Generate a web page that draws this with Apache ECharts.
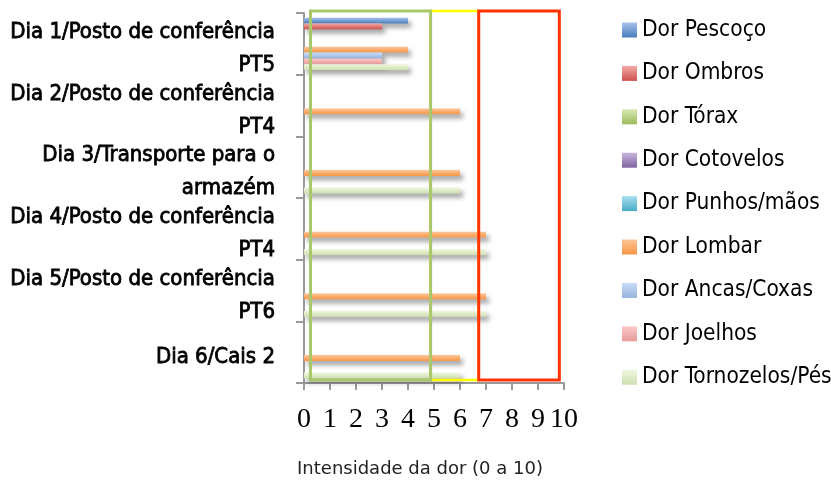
<!DOCTYPE html>
<html>
<head>
<meta charset="utf-8">
<script src="https://cdn.jsdelivr.net/npm/echarts@6/dist/echarts.min.js"></script>
<style>
  html, body { margin: 0; padding: 0; background: #ffffff; }
  #chart { width: 831px; height: 482px; }
</style>
</head>
<body>
<div id="chart"></div>
<script>
// Work stations observed on each day
const categories = [
  'Dia 1/Posto de conferência\nPT5',
  'Dia 2/Posto de conferência\nPT4',
  'Dia 3/Transporte para o\narmazém',
  'Dia 4/Posto de conferência\nPT4',
  'Dia 5/Posto de conferência\nPT6',
  'Dia 6/Cais 2'
];

// Reported pain intensity (0 to 10) per body region
const seriesNames = [
  'Dor Pescoço', 'Dor Ombros', 'Dor Tórax', 'Dor Cotovelos', 'Dor Punhos/mãos',
  'Dor Lombar', 'Dor Ancas/Coxas', 'Dor Joelhos', 'Dor Tornozelos/Pés'
];
const dorPescoco    = [4, 0, 0, 0, 0, 0];
const dorOmbros     = [3, 0, 0, 0, 0, 0];
const dorTorax      = [0, 0, 0, 0, 0, 0];
const dorCotovelos  = [0, 0, 0, 0, 0, 0];
const dorPunhos     = [0, 0, 0, 0, 0, 0];
const dorLombar     = [4, 6, 6, 7, 7, 6];
const dorAncas      = [3, 0, 0, 0, 0, 0];
const dorJoelhos    = [3, 0, 0, 0, 0, 0];
const dorTornozelos = [4, 0, 6, 7, 7, 6];

const seriesValues = [
  dorPescoco, dorOmbros, dorTorax, dorCotovelos, dorPunhos,
  dorLombar, dorAncas, dorJoelhos, dorTornozelos
];

// Scale ticks
const xTicks = [0, 1, 2, 3, 4, 5, 6, 7, 8, 9, 10];

// Intensity zones (low / moderate / high) on the pain scale
const zoneLow  = [0.25, 4.87];
const zoneMid  = [4.87, 6.72];
const zoneHigh = [6.72, 9.82];

// Bar fill gradients: lighter top, darker bottom
const palette = [
  ['#a6c3ec', '#4a7ebb'],
  ['#f3aaa8', '#cd4f4c'],
  ['#d9e9b4', '#9bbb59'],
  ['#c6b6dd', '#8064a2'],
  ['#a9dff0', '#4bacc6'],
  ['#fdc597', '#f79646'],
  ['#cadcf7', '#95b3de'],
  ['#fcc8c7', '#e69c9b'],
  ['#eff7df', '#cddfb0']
];

const labelFont = '"DejaVu Sans Condensed", "Liberation Sans Narrow", "DejaVu Sans", sans-serif';

function grad(c) {
  return new echarts.graphic.LinearGradient(0, 0, 0, 1, [
    { offset: 0, color: c[0] },
    { offset: 1, color: c[1] }
  ]);
}

const chart = echarts.init(document.getElementById('chart'), null, { renderer: 'canvas' });

const barSeries = seriesNames.map((name, i) => ({
  name: name,
  type: 'bar',
  data: seriesValues[i],
  barGap: '0%',
  barCategoryGap: '15%',
  itemStyle: {
    color: grad(palette[i]),
    shadowColor: 'rgba(0,0,0,0.38)',
    shadowBlur: 5,
    shadowOffsetX: 3,
    shadowOffsetY: 4
  },
  emphasis: { disabled: true },
  z: 2
}));

function zoneArea(range, color, width) {
  return [
    { xAxis: range[0], y: 11, itemStyle: { color: 'rgba(0,0,0,0)', borderColor: color, borderWidth: width } },
    { xAxis: range[1], y: 380 }
  ];
}

// Zone outlines drawn above the bars
barSeries.push({
  name: 'zones',
  type: 'line',
  data: [],
  z: 10,
  silent: true,
  markArea: {
    silent: true,
    z: 10,
    label: { show: false },
    emphasis: { disabled: true },
    data: [
      zoneArea(zoneMid, '#ffff00', 2.5),
      zoneArea(zoneLow, '#a9c76b', 3),
      zoneArea(zoneHigh, '#ff3300', 3)
    ]
  }
});

chart.setOption({
  animation: false,
  backgroundColor: '#ffffff',
  grid: { left: 304, right: 267, top: 13, bottom: 99, containLabel: false, outerBoundsMode: 'none' },
  legend: {
    data: seriesNames,
    orient: 'vertical',
    left: 617,
    top: 13,
    itemWidth: 15,
    itemHeight: 15,
    itemGap: 19.4,
    icon: 'rect',
    textStyle: {
      fontFamily: labelFont,
      fontSize: 22.5,
      lineHeight: 24,
      color: '#000000'
    }
  },
  xAxis: {
    type: 'value',
    min: xTicks[0],
    max: xTicks[xTicks.length - 1],
    interval: 1,
    name: 'Intensidade da dor (0 a 10)',
    nameLocation: 'middle',
    nameGap: 77,
    nameTextStyle: {
      fontFamily: '"DejaVu Sans", sans-serif',
      fontSize: 18,
      color: '#222222',
      padding: [0, 28, 0, 0]
    },
    axisLine: { show: true, lineStyle: { color: '#9a9a9a', width: 2 } },
    axisTick: { show: true, length: 7, lineStyle: { color: '#9a9a9a', width: 2 } },
    splitLine: { show: false },
    axisLabel: {
      margin: 23,
      fontFamily: '"Liberation Serif", "DejaVu Serif", serif',
      fontSize: 28,
      color: '#000000'
    }
  },
  yAxis: {
    type: 'category',
    data: categories,
    inverse: true,
    axisLine: { show: true, lineStyle: { color: '#9a9a9a', width: 2 } },
    axisTick: { show: true, length: 8, lineStyle: { color: '#9a9a9a', width: 2 } },
    axisLabel: {
      interval: 0,
      margin: 29,
      fontFamily: labelFont,
      fontSize: 22,
      lineHeight: 33,
      color: '#000000',
      textBorderColor: '#000000',
      textBorderWidth: 0.8,
      align: 'right',
      // a thin spacer line on top nudges each label block slightly down
      formatter: (v) => '{gap|\u200b}\n' + v,
      rich: {
        gap: { fontSize: 1, lineHeight: 10, height: 10 }
      }
    }
  },
  series: barSeries
});
</script>
</body>
</html>
